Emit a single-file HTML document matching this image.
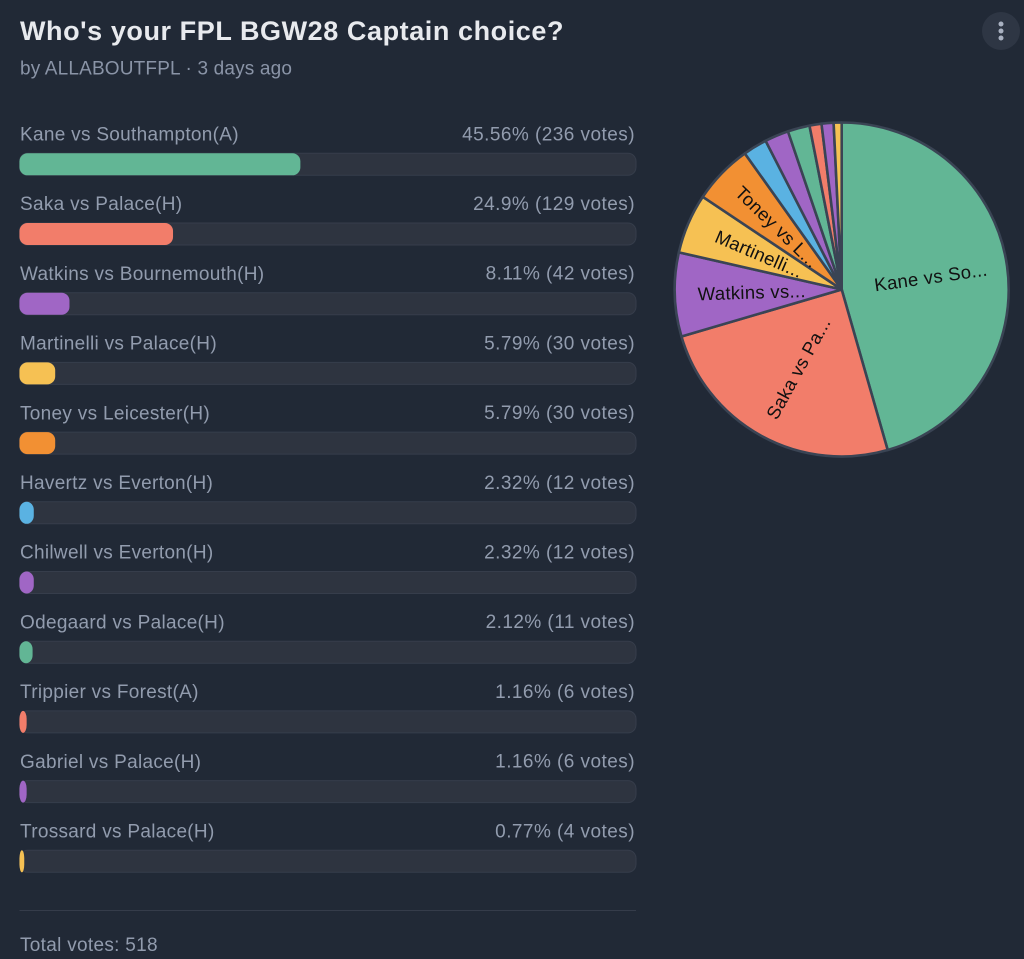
<!DOCTYPE html>
<html lang="en">
<head>
<meta charset="utf-8">
<title>FPL BGW28 Captain poll</title>
<style>
html,body{margin:0;padding:0;background:#212936;width:1024px;height:959px;overflow:hidden}
svg{display:block;font-family:"Liberation Sans",sans-serif}
.row-text{font-size:19px;fill:#929cae;letter-spacing:.3px}
.value-text{letter-spacing:.45px}
.pie-label{font-size:18.5px;fill:#111;letter-spacing:.3px}
</style>
</head>
<body>
<svg id="chart" width="1024" height="959" viewBox="0 0 1024 959" xmlns="http://www.w3.org/2000/svg">
  <text x="20" y="40" font-size="27" font-weight="700" fill="#e8eaee" letter-spacing=".57">Who's your FPL BGW28 Captain choice?</text>
  <text x="20" y="74.5" font-size="19" fill="#8a94a7" letter-spacing=".17">by ALLABOUTFPL · 3 days ago</text>
  <g>
    <circle cx="1001" cy="31" r="19" fill="#2e3644"></circle>
    <circle cx="1001" cy="24" r="2.5" fill="#a9b1c1"></circle>
    <circle cx="1001" cy="31" r="2.5" fill="#a9b1c1"></circle>
    <circle cx="1001" cy="38" r="2.5" fill="#a9b1c1"></circle>
  </g>
  <g id="rows"></g>
  <g id="pie"></g>
  <line x1="19.5" y1="910.5" x2="636" y2="910.5" stroke="#353c4a" stroke-width="1"></line>
  <text x="20" y="951" class="row-text">Total votes: 518</text>
</svg>
<script>
const categories = ["Kane vs Southampton(A)", "Saka vs Palace(H)", "Watkins vs Bournemouth(H)", "Martinelli vs Palace(H)", "Toney vs Leicester(H)", "Havertz vs Everton(H)", "Chilwell vs Everton(H)", "Odegaard vs Palace(H)", "Trippier vs Forest(A)", "Gabriel vs Palace(H)", "Trossard vs Palace(H)"];
const votes = [236, 129, 42, 30, 30, 12, 12, 11, 6, 6, 4];
const pieLabels = ["Kane vs So...", "Saka vs Pa...", "Watkins vs...", "Martinelli...", "Toney vs L...", "", "", "", "", "", ""];
const palette = ["#62b695", "#f27d6a", "#a066c5", "#f6c153", "#f29033", "#5ab2e2", "#a066c5", "#62b695", "#f27d6a", "#a066c5", "#f6c153"];

const NS = "http://www.w3.org/2000/svg";
const total = votes.reduce((a, b) => a + b, 0);
const trackX = 19.5, trackW = 616.5, trackH = 22, firstTrackY = 153.3, rowStep = 69.7;
const cx = 841.7, cy = 289.5, radius = 167, labelRadius = 90;

function make(tag, attrs, parent) {
  const el = document.createElementNS(NS, tag);
  for (const k in attrs) el.setAttribute(k, attrs[k]);
  parent.appendChild(el);
  return el;
}
function barWidth(v) { return (v / total) * trackW; }
function rowY(i) { return firstTrackY + i * rowStep; }
function pct(v) { return parseFloat((v / total * 100).toFixed(2)); }
function pieAngle(cum) { return cum / total * 2 * Math.PI; }
function piePoint(a, r) { return [cx + r * Math.sin(a), cy - r * Math.cos(a)]; }

const rows = document.getElementById("rows");
categories.forEach((name, i) => {
  const y = rowY(i);
  const g = make("g", {}, rows);
  
  
  const label = make("text", {x: 20, y: y - 12.8, class: "row-text"}, g);
  label.textContent = name;
  
  
  const value = make("text", {x: 635, y: y - 13, class: "row-text value-text", "text-anchor": "end"}, g);
  value.textContent = pct(votes[i]) + "% (" + votes[i] + " votes)";
  
  
  const track = make("rect", {x: trackX, y: y, width: trackW, height: trackH, rx: 8, ry: 8, fill: "#2e3440", stroke: "#363d4b", "stroke-width": 1}, g);
  
  
  const bar = make("rect", {x: trackX, y: y, width: barWidth(votes[i]), height: trackH, rx: 8, ry: 8, fill: palette[i]}, g);
  
  
});

const pie = document.getElementById("pie");
let cum = 0;
const labelQueue = [];
votes.forEach((v, i) => {
  const a0 = pieAngle(cum), a1 = pieAngle(cum + v);
  const [x0, y0] = piePoint(a0, radius);
  const [x1, y1] = piePoint(a1, radius);
  const large = a1 - a0 > Math.PI ? 1 : 0;
  const slice = make("path", {
    d: `M${cx} ${cy}L${x0} ${y0}A${radius} ${radius} 0 ${large} 1 ${x1} ${y1}Z`,
    fill: palette[i], stroke: "#3a4454", "stroke-width": 2.6, "stroke-linejoin": "round"
  }, pie);
  
  
  if (pieLabels[i]) labelQueue.push([pieLabels[i], (a0 + a1) / 2]);
  cum += v;
});
labelQueue.forEach(([txt, mid]) => {
  const [lx, ly] = piePoint(mid, labelRadius);
  let deg = mid * 180 / Math.PI - 90;
  if (deg > 90) deg -= 180;
  const t = make("text", {
    x: lx, y: ly, class: "pie-label", "text-anchor": "middle", "dominant-baseline": "central",
    transform: `rotate(${deg} ${lx} ${ly})`
  }, pie);
  t.textContent = txt;
  
  
});
</script>
</body>
</html>
